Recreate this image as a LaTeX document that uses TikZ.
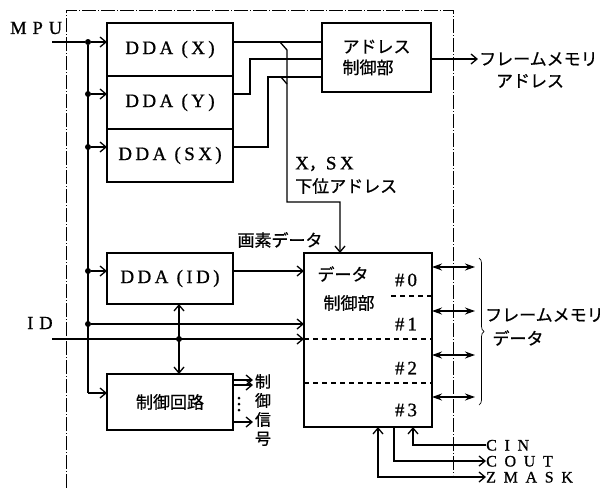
\documentclass[tikz,border=0pt]{standalone}
\usepackage{fontspec}
\setmainfont{Liberation Serif}
\newfontfamily\jpfont[FakeBold=0.7]{Noto Sans CJK JP}
\newfontfamily\latfont[LetterSpace=18,FakeBold=0.8]{Liberation Serif}
\newfontfamily\sigfont[LetterSpace=32,FakeBold=0.8]{Liberation Serif}
\newfontfamily\pinfont[LetterSpace=48,FakeBold=0.8]{Liberation Serif}
\usetikzlibrary{arrows.meta,positioning,calc,decorations.pathreplacing}
\newcommand{\jp}{\jpfont\fontsize{17}{21}\selectfont}
\newcommand{\lat}{\latfont\fontsize{19}{22}\selectfont}
\newcommand{\sig}{\sigfont\fontsize{18.5}{21}\selectfont}
\newcommand{\pin}{\pinfont\fontsize{16}{17}\selectfont}

\begin{document}
\begin{tikzpicture}[x=1pt, y=-1pt,
  block/.style={draw, line width=2pt, inner sep=0pt, outer sep=0pt,
    anchor=north west, minimum width=126pt},
  line/.style={line width=1.3pt},
  arr/.style={line, -{Straight Barb[length=6pt,width=10pt]}},
  dblarr/.style={line, {Straight Barb[length=6pt,width=10pt]}-{Straight Barb[length=6pt,width=10pt]}},
  busarr/.style={line, {Stealth[length=10pt,width=7pt]}-{Stealth[length=10pt,width=7pt]}},
  dot/.style={circle, fill, inner sep=0pt, minimum size=6pt},
  lbl/.style={font=\lat, inner sep=1pt},
  sig/.style={font=\sig, inner sep=1pt, anchor=west},
  pin/.style={font=\pin, inner sep=0pt, text height=11pt, text depth=0pt, anchor=west},
  jlbl/.style={font=\jp, inner sep=1pt},
  bound/.style={line width=0.7pt, dash pattern=on 14pt off 2pt on 1pt off 2pt},
  part/.style={line width=1.3pt, dash pattern=on 5pt off 4pt}
]
\useasboundingbox (0,0) rectangle (606,488);

% LSI boundary
\draw[bound] (66,488) |- (453,10) -- (453,475);

% DDA blocks
\node[block, minimum height=53pt, font=\lat] (ddax) at (107,23) {DDA (X)};
\node[block, minimum height=53pt, font=\lat, below=0pt of ddax] (dday) {DDA (Y)};
\node[block, minimum height=53pt, font=\lat, below=0pt of dday] (ddasx) {DDA (SX)};
\node[block, minimum height=51pt, font=\lat] (ddaid) at (107,253) {DDA (ID)};
\node[block, minimum height=56pt, font=\jp] (ctrl) at (107,374) {制御回路};

% address and data control
\node[block, minimum width=109pt, minimum height=69pt, font=\jp, align=left]
  (addr) at (322,23) {アドレス\\制御部};
\node[block, minimum width=128pt, minimum height=174pt] (data) at (304,253) {};

% inputs
\node[sig] (mpu) at (9,28) {MPU};
\node[sig] (id) at (26,323) {ID};
\coordinate (mpuin) at (52,42);
\coordinate (idin) at (52,339);

% bus taps
\node[dot] (b0) at (88,42) {};
\node[dot] (b1) at (88,94) {};
\node[dot] (b2) at (88,147) {};
\node[dot] (b3) at (88,271) {};
\node[dot] (b4) at (88,324) {};
\coordinate (b5) at (88,393);
\node[dot] (j) at (179,339) {};

\draw[line] (mpuin) -- (b0);
\draw[line] (b0) -- (b5);
\foreach \b/\n in {b0/ddax, b1/dday, b2/ddasx, b3/ddaid, b5/ctrl}
  \draw[arr] (\b) -- (\b -| \n.west);
\draw[arr] (b4) -- (b4 -| data.west);
\draw[arr] (b3 -| ddaid.east) -- (b3 -| data.west);
\draw[arr] (idin) -- (idin -| data.west);
\draw[dblarr] (j |- ddaid.south) -- (j |- ctrl.north);

% DDA outputs to address control
\coordinate (yk) at (250,59);
\coordinate (sk) at (268,77);
\draw[line] (b0 -| ddax.east) -- (b0 -| addr.west);
\draw[line] (b1 -| dday.east) -| (yk) -- (yk -| addr.west);
\draw[line] (b2 -| ddasx.east) -| (sk) -- (sk -| addr.west);

% lower address to data control
\coordinate (xb) at (280,42);
\coordinate (sxb) at (281,77);
\coordinate (lw) at (340,202);
\draw[arr] (xb) -- ++(7,8) |- (lw) -- (lw |- data.north);
\draw[line] (sxb) -- ++(6,7);
\node[jlbl, anchor=west] (xsx) at (294,164) {{\lat X}，{\lat SX}};
\node[jlbl, anchor=west] (low) at (294,186) {下位アドレス};
\node[jlbl] (pix) at (280,240) {画素データ};

% frame memory address
\node[jlbl, anchor=west] (fmaddr) at (478,59) {フレームメモリ};
\node[jlbl] (fmaddr2) at (530,81) {アドレス};
\draw[arr] (addr.east |- fmaddr) -- (fmaddr.west);

% data control contents
\node[jlbl] (dt) at (343,274) {データ};
\node[jlbl] (dtc) at (349,303) {制御部};
\foreach \i/\y in {0/280,1/324,2/368,3/410}
  \node[lbl] (n\i) at (406,\y) {\#\hspace{3pt}\i};
\draw[part] ([yshift=-43pt]data.north east) -- +(-44,0);
\foreach \d in {86,130}
  \draw[part] ([yshift=-\d pt]data.north west) -- ([yshift=-\d pt]data.north east);

% frame memory data
\foreach \i/\y in {0/267,1/311,2/355,3/397} {
  \coordinate (r\i) at (475,\y);
  \draw[busarr] (r\i -| data.east) -- (r\i);
}
\draw[decorate, decoration={brace, amplitude=5pt}, line width=0.7pt]
  (479,258) -- (479,405);
\node[jlbl, anchor=west] (fmdata) at (484,315) {フレームメモリ};
\node[jlbl] (fmdata2) at (518,338) {データ};

% control signals
\coordinate (o1) at (253,380);
\coordinate (o2) at (253,385);
\coordinate (o3) at (253,422);
\foreach \o in {o1,o2,o3}
  \draw[arr] (\o -| ctrl.east) -- (\o);
\foreach \y in {398,404,410}
  \fill (239,\y) circle (1.5pt);
\node[jlbl, align=center, font=\jpfont\fontsize{16}{19}\selectfont]
  (sigs) at (263,410) {制\\御\\信\\号};

% carry and mask
\node[pin] (cin) at (486,445) {CIN};
\node[pin] (cout) at (486,461) {COUT};
\node[pin] (zmask) at (486,477) {ZMASK};
\draw[arr] (cin.west) -| ([xshift=-19pt]data.south east);
\draw[arr] ([xshift=-38pt]data.south east) |- (cout.west);
\draw[dblarr] ([xshift=-54pt]data.south east) |- (zmask.west);

\end{tikzpicture}
\end{document}
